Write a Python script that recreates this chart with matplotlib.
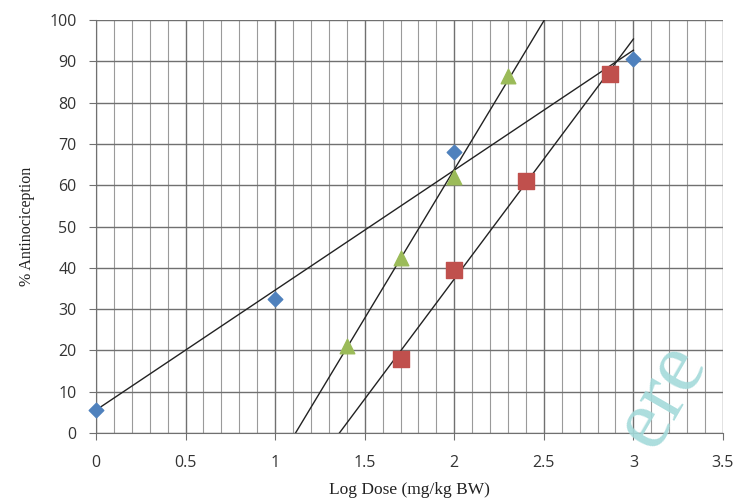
import numpy as np
import matplotlib
matplotlib.use("Agg")
import matplotlib.pyplot as plt
from matplotlib.ticker import MultipleLocator

# Data
blue_x = [0.0, 1.0, 2.0, 3.0]
blue_y = [5.5, 32.5, 68.0, 90.5]
green_x = [1.4, 1.7, 2.0, 2.3]
green_y = [21.0, 42.5, 62.0, 86.5]
red_x = [1.7, 2.0, 2.4, 2.87]
red_y = [18.0, 39.5, 61.0, 87.0]

x_ticks = [0, 0.5, 1, 1.5, 2, 2.5, 3, 3.5]
x_tick_labels = ["0", "0.5", "1", "1.5", "2", "2.5", "3", "3.5"]
y_ticks = list(range(0, 101, 10))

fig = plt.figure(figsize=(7.36, 5.01), dpi=100)
ax = fig.add_axes([0.1304, 0.1357, 0.8519, 0.8243])
ax.set_xlim(0, 3.5)
ax.set_ylim(0, 100)

# grid
ax.xaxis.set_minor_locator(MultipleLocator(0.1))
ax.set_xticks(x_ticks)
ax.set_xticklabels(x_tick_labels)
ax.set_yticks(y_ticks)
ax.grid(True, which="minor", axis="x", color="#9a9a9a", lw=0.8)
ax.grid(True, which="major", axis="x", color="#707070", lw=1.0)
ax.grid(True, which="major", axis="y", color="#707070", lw=1.0)
ax.set_axisbelow(True)
for s in ["top", "right"]:
    ax.spines[s].set_visible(False)
for s in ["left", "bottom"]:
    ax.spines[s].set_color("#707070")
ax.tick_params(axis="both", which="major", length=5, color="#707070", labelsize=11.5,
               labelcolor="#333333")
ax.tick_params(axis="x", which="major", pad=11)
ax.tick_params(axis="y", which="major", pad=9)
ax.tick_params(axis="x", which="minor", length=0)
for lbl in ax.get_xticklabels() + ax.get_yticklabels():
    lbl.set_family("Open Sans")

# trendlines (least-squares fits over x 0..3)
xs = np.array([0.0, 3.0])
for xv, yv in [(blue_x, blue_y), (green_x, green_y), (red_x, red_y)]:
    m, b = np.polyfit(xv, yv, 1)
    ax.plot(xs, m * xs + b, color="#222222", lw=1.0, zorder=2)

ax.scatter(blue_x, blue_y, marker="D", s=55, color="#4f81bd", zorder=3, clip_on=False)
ax.scatter(green_x, green_y, marker="^", s=110, color="#9bbb59", zorder=3, clip_on=False)
ax.scatter(red_x, red_y, marker="s", s=120, color="#c0504d", zorder=3, clip_on=False)

ax.set_xlabel("Log Dose (mg/kg BW)", family="Liberation Serif", fontsize=12.5,
              color="#222222", labelpad=8)
ax.set_ylabel("% Antinociception", family="Liberation Serif", fontsize=11.5,
              color="#222222", labelpad=10)

# watermark
fig.text(0.9, 0.21, "ere", family="Liberation Serif", fontsize=62, color="#a3dada",
         rotation=60, ha="center", va="center", alpha=0.9, zorder=0)

fig.savefig("out.png", dpi=100)
